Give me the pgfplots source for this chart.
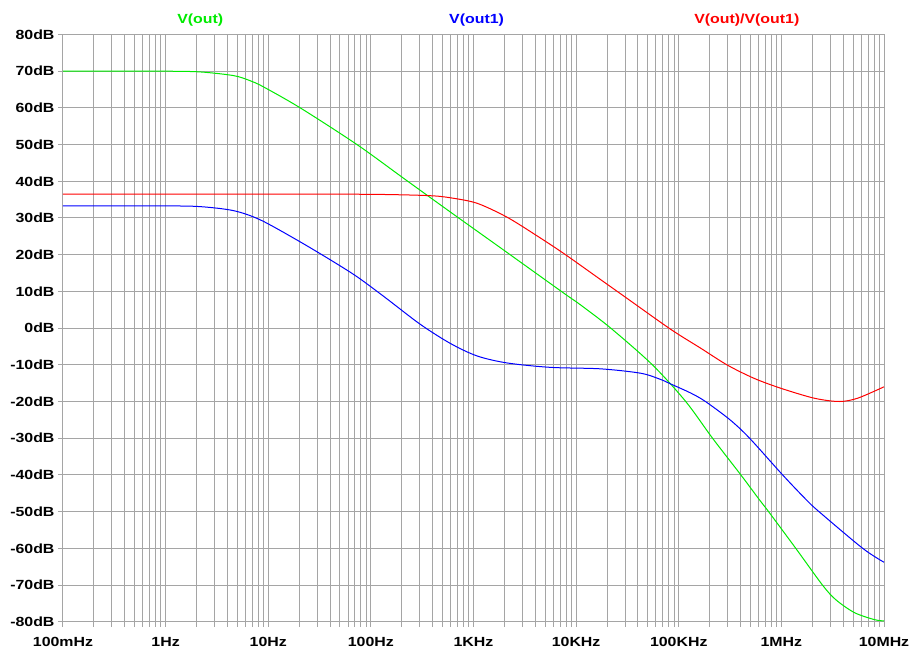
\documentclass[border=0pt]{standalone}
\usepackage{fontspec}
\setmainfont{Liberation Sans}[FakeStretch=1.2]
\usepackage{pgfplots}
\pgfplotsset{compat=1.18}

\definecolor{gridc}{RGB}{165,165,165}
\definecolor{vgreen}{RGB}{0,235,0}
\definecolor{vblue}{RGB}{0,0,255}
\definecolor{vred}{RGB}{255,0,0}

% minor grid positions: log10(2..9) in every decade
\makeatletter
\def\mlist{}
\foreach \d in {-1,...,6}{%
  \foreach \k in {2,...,9}{%
    \pgfmathparse{\d+log10(\k)}%
    \ifx\mlist\@empty\xdef\mlist{\pgfmathresult}\else\xdef\mlist{\mlist,\pgfmathresult}\fi
  }}
\makeatother

\newcommand\lbl{\fontsize{13.3}{15}\selectfont\bfseries}

\begin{document}
\begin{tikzpicture}
\begin{axis}[
    scale only axis,
    width=821bp, height=587.2bp,
    xmin=-1, xmax=7, ymin=-80, ymax=80,
    xtick={-1,...,7},
    xticklabels={100mHz,1Hz,10Hz,100Hz,1KHz,10KHz,100KHz,1MHz,10MHz},
    minor xtick/.expanded=\mlist,
    ytick={-80,-70,...,80},
    yticklabels={-80dB,-70dB,-60dB,-50dB,-40dB,-30dB,-20dB,-10dB,0dB,10dB,20dB,30dB,40dB,50dB,60dB,70dB,80dB},
    grid=both,
    major grid style={gridc, line width=1bp},
    minor grid style={gridc, line width=1bp},
    axis line style={gridc, line width=1bp},
    tick style={gridc, line width=1bp},
    tick align=outside, tick pos=left,
    major tick length=5bp, minor tick length=5bp,
    ticklabel style={font=\lbl, text=black},
    xticklabel style={yshift=-7bp},
    clip=false,
    every axis plot/.append style={line width=1bp, smooth, no marks},
]
% V(out)
\addplot[vgreen] coordinates {
(-1,70.0) (-0.5,70.0) (0,70.0) (0.337,69.8) (0.662,68.8) (0.824,67.4) (0.955,65.7)
(1.312,60.0) (1.865,50.0) (2.32,40.8) (2.776,31.6) (3.312,20.9) (3.881,9.5) (4.044,6.3)
(4.337,0.0) (4.743,-10) (5.068,-20) (5.329,-30) (5.605,-40) (5.784,-46.7) (5.875,-50)
(6.14,-60) (6.40,-70) (6.53,-74.0) (6.71,-77.5) (6.902,-79.4) (7,-79.8)
};
% V(out1)
\addplot[vblue] coordinates {
(-1,33.3) (-0.5,33.3) (0,33.3) (0.337,33.1) (0.662,32.0) (0.922,29.5) (1.28,24.0)
(1.605,18.6) (1.865,14.0) (2.141,8.3) (2.483,1.0) (2.776,-4.2) (3.036,-7.6) (3.328,-9.5)
(3.751,-10.7) (4.239,-11.1) (4.63,-12.3) (4.824,-14.0) (4.92,-15.2) (5.117,-17.7)
(5.26,-20.0) (5.5,-25.0) (5.69,-30.0) (6.012,-40.0) (6.24,-46.7) (6.366,-50.0)
(6.792,-60.0) (7,-63.8)
};
% V(out)/V(out1)
\addplot[vred] coordinates {
(-1,36.5) (0,36.5) (1,36.5) (2,36.45) (2.56,36.1) (2.776,35.5) (3.036,34.0) (3.328,30.2)
(3.621,25.1) (3.881,20.3) (4.239,13.2) (4.466,8.7) (4.92,-0.3) (5.215,-5.5) (5.475,-10.1)
(5.735,-13.7) (5.995,-16.4) (6.32,-19.1) (6.564,-20.0) (6.743,-19.1) (7,-16.0)
};
\node[anchor=base, yshift=11bp, font=\lbl, text=vgreen] at (axis cs:0.337,80) {V(out)};
\node[anchor=base, yshift=11bp, font=\lbl, text=vblue] at (axis cs:3.03,80) {V(out1)};
\node[anchor=base, yshift=11bp, font=\lbl, text=vred] at (axis cs:5.663,80) {V(out)/V(out1)};
\end{axis}
\pgfresetboundingbox
\path ([shift={(-63bp,-28.3bp)}]current axis.south west) rectangle ([shift={(26bp,34.5bp)}]current axis.north east);
\end{tikzpicture}
\end{document}
